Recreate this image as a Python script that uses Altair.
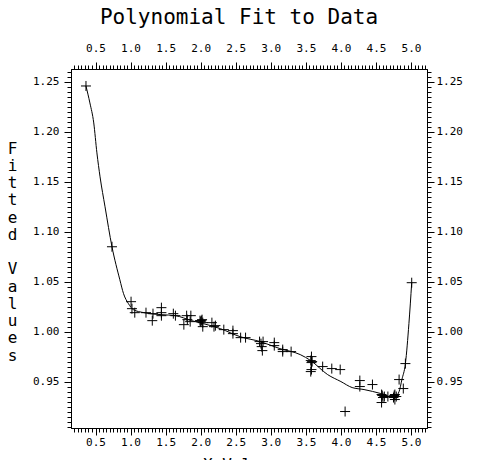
import altair as alt
import pandas as pd

pts_x = [0.364, 0.735, 1.007, 1.02, 1.06, 1.22, 1.31, 1.32, 1.44, 1.44, 1.44, 1.61, 1.64,
         1.76, 1.80, 1.86, 1.85, 1.81, 2.02, 2.03, 2.03, 2.00, 1.99, 2.01, 2.16, 2.19, 2.21,
         2.33, 2.46, 2.46, 2.57, 2.64, 2.84, 2.86, 2.88, 2.87, 2.89, 3.05, 3.05, 3.17, 3.17,
         3.29, 3.58, 3.58, 3.57, 3.59, 3.58, 3.57, 3.74, 3.87, 3.99, 4.06, 4.27, 4.27, 4.45,
         4.58, 4.60, 4.58, 4.62, 4.59, 4.67, 4.77, 4.77, 4.75, 4.79, 4.76, 4.83, 4.89, 4.92,
         5.01]
pts_y = [1.246, 1.085, 1.030, 1.023, 1.019, 1.019, 1.011, 1.018, 1.024, 1.019, 1.016, 1.018, 1.016,
         1.007, 1.016, 1.016, 1.010, 1.012, 1.012, 1.009, 1.005, 1.010, 1.011, 1.011, 1.009, 1.005, 1.006,
         1.002, 1.001, 0.998, 0.994, 0.994, 0.990, 0.988, 0.981, 0.985, 0.990, 0.989, 0.986, 0.982, 0.980,
         0.980, 0.975, 0.969, 0.971, 0.970, 0.962, 0.960, 0.965, 0.963, 0.962, 0.920, 0.951, 0.945, 0.947,
         0.937, 0.934, 0.929, 0.935, 0.936, 0.935, 0.937, 0.932, 0.934, 0.935, 0.936, 0.952, 0.943, 0.968,
         1.049]

# Fitted curve
fit_x = [0.364, 0.42, 0.475, 0.52, 0.565, 0.636, 0.735, 0.847, 0.90, 0.97, 1.04, 1.19, 1.44,
         1.64, 1.87, 2.04, 2.28, 2.56, 2.85, 3.13, 3.42, 3.57, 3.81, 4.00, 4.16, 4.33, 4.57,
         4.76, 4.83, 4.87, 4.92, 4.97, 5.01]
fit_y = [1.246, 1.229, 1.209, 1.179, 1.155, 1.125, 1.085, 1.052, 1.038, 1.028, 1.022, 1.019, 1.017,
         1.016, 1.011, 1.008, 1.003, 0.995, 0.990, 0.983, 0.977, 0.971, 0.957, 0.950, 0.944, 0.942, 0.938,
         0.934, 0.940, 0.952, 0.968, 1.008, 1.049]

x_major = [0.5, 1.0, 1.5, 2.0, 2.5, 3.0, 3.5, 4.0, 4.5, 5.0]
y_major = [0.95, 1.00, 1.05, 1.10, 1.15, 1.20, 1.25]
x_minor = [round(0.15 + 0.05 * i, 2) for i in range(102)]
y_minor = [round(0.905 + 0.005 * i, 3) for i in range(72)]

df_pts = pd.DataFrame({"x": pts_x, "y": pts_y})
df_fit = pd.DataFrame({"x": fit_x, "y": fit_y})

MONO = "DejaVu Sans Mono"
xs = alt.Scale(domain=[0.1505, 5.228], nice=False, zero=False)
ys = alt.Scale(domain=[0.9035, 1.263], nice=False, zero=False)

ytitle = ["F", "i", "t", "t", "e", "d", "\u2800", "V", "a", "l", "u", "e", "s"]

common = dict(grid=False, domainColor="black", tickColor="black", labelColor="black",
              domainWidth=1, tickWidth=1, labelFont=MONO, labelFontSize=11,
              titleFont=MONO, titleColor="black", titleFontWeight="normal")

ax_bottom = alt.Axis(orient="bottom", values=x_major, format=".1f", tickSize=7, labelPadding=1,
                     title="X Values", titleFontSize=16, titleBaseline="top", titleY=28,
                     titleX=170, titleAlign="center", **common)
ax_top = alt.Axis(orient="top", values=x_major, format=".1f", tickSize=7, labelPadding=9, title="",
                  **common)
ay_left = alt.Axis(orient="left", values=y_major, format=".2f", tickSize=7, labelPadding=5,
                   title=ytitle, titleAngle=0, titleFontSize=16, titleLineHeight=17.25,
                   titleBaseline="top", titleAlign="center", titleX=-59, titleY=71, **common)
ay_right = alt.Axis(orient="right", values=y_major, format=".2f", tickSize=7, labelPadding=2, title="",
                    **common)

ax_bottom_m = alt.Axis(orient="bottom", values=x_minor, tickSize=4, labels=False, title="", **common)
ax_top_m = alt.Axis(orient="top", values=x_minor, tickSize=4, labels=False, title="", **common)
ay_left_m = alt.Axis(orient="left", values=y_minor, tickSize=4, labels=False, title="", **common)
ay_right_m = alt.Axis(orient="right", values=y_minor, tickSize=4, labels=False, title="", **common)

minor1 = alt.Chart(df_fit).mark_line(opacity=0).encode(
    x=alt.X("x:Q", scale=xs, axis=ax_bottom_m), y=alt.Y("y:Q", scale=ys, axis=ay_left_m))
minor2 = alt.Chart(df_fit).mark_line(opacity=0).encode(
    x=alt.X("x:Q", scale=xs, axis=ax_top_m), y=alt.Y("y:Q", scale=ys, axis=ay_right_m))

line = alt.Chart(df_fit).mark_line(color="black", strokeWidth=1, interpolate="monotone").encode(
    x=alt.X("x:Q", scale=xs, axis=ax_top), y=alt.Y("y:Q", scale=ys, axis=ay_right))

pts = alt.Chart(df_pts).mark_point(shape="M-1,0L1,0M0,-1L0,1", size=100, filled=False,
                                   color="black", strokeWidth=1, opacity=1).encode(
    x=alt.X("x:Q", scale=xs, axis=ax_bottom), y=alt.Y("y:Q", scale=ys, axis=ay_left))

chart = alt.layer(minor1, minor2, line, pts).resolve_axis(x="independent", y="independent").properties(
    width=356, height=359,
    title=alt.TitleParams("Polynomial Fit to Data", font=MONO, fontSize=21, fontWeight="normal",
                          color="black", anchor="middle", offset=14, dx=-10),
    autosize=alt.AutoSizeParams(type="none"),
    padding={"left": 63, "top": 61, "right": 40, "bottom": 32},
    background="white",
).configure_axis(
    labelFont=MONO, labelFontSize=11, labelColor="black", domainColor="black", tickColor="black",
    grid=False, titleFont=MONO, titleColor="black", titleFontWeight="normal",
    domainWidth=1, tickWidth=1,
).configure_view(strokeWidth=0)

chart.save("out.html", embed_options={"renderer": "svg", "actions": False})
